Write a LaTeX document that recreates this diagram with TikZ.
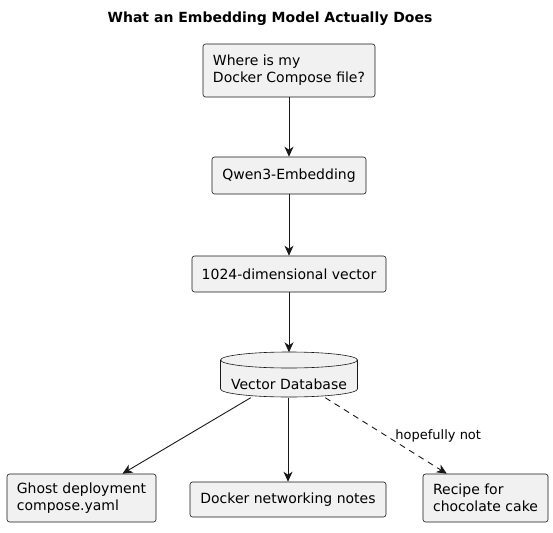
\documentclass[tikz,border=0pt]{standalone}
\usepackage{fontspec}
\setmainfont{DejaVu Sans}
\usetikzlibrary{arrows.meta}
\definecolor{boxfill}{HTML}{F1F1F1}
\definecolor{boxline}{HTML}{181818}
\tikzset{
  box/.style={draw=boxline, fill=boxfill, line width=0.6pt, rounded corners=2.5pt,
    font=\fontsize{14}{17}\selectfont, inner sep=0pt, align=left},
  conn/.style={draw=boxline, line width=0.9pt, -{Stealth[length=10pt,width=9pt,inset=3pt]}},
  dconn/.style={conn, dash pattern=on 6pt off 5pt},
  lbl/.style={font=\fontsize{13}{15}\selectfont, inner sep=0pt},
}
\begin{document}
\begin{tikzpicture}[x=1pt,y=-1pt]
\useasboundingbox (0,0) rectangle (553,532);
\node[font=\bfseries\fontsize{14}{17}\selectfont] (title) at (270,18.5) {What an Embedding Model Actually Does};
\node[box, minimum width=172, minimum height=53] (q) at (289,70.5) {Where is my\\Docker Compose file?};
\node[box, minimum width=154, minimum height=37] (emb) at (289,175.5) {Qwen3-Embedding};
\node[box, minimum width=194, minimum height=36] (vec) at (289,274) {1024-dimensional vector};
% database cylinder
\node[minimum width=137, minimum height=45, inner sep=0pt] (db) at (289,375) {};
\path[draw=boxline, fill=boxfill, line width=0.6pt]
  (220.5,360) -- (220.5,389) arc[start angle=180, end angle=0, x radius=68.5, y radius=8]
  -- (357.5,360) arc[start angle=0, end angle=-180, x radius=68.5, y radius=8] -- cycle;
\draw[boxline, line width=0.6pt] (220.5,360) arc[start angle=180, end angle=0, x radius=68.5, y radius=8];
\node[font=\fontsize{14}{17}\selectfont, inner sep=0pt] (dbl) at (289,384) {Vector Database};
\node[box, minimum width=149, minimum height=48] (ghost) at (81.5,498) {Ghost deployment\\compose.yaml};
\node[box, minimum width=196, minimum height=35] (net) at (288,499.5) {Docker networking notes};
\node[box, minimum width=125, minimum height=48] (cake) at (485.5,498) {Recipe for\\chocolate cake};
\draw[conn] (q) -- (emb);
\draw[conn] (emb) -- (vec);
\draw[conn] (vec) -- (db);
\draw[conn] (db) -- (ghost);
\draw[conn] (db.south -| net) -- (net);
\draw[dconn] (db) -- node[lbl, pos=0.5, anchor=west, xshift=9pt] (hl) {hopefully not} (cake);
\end{tikzpicture}
\end{document}
